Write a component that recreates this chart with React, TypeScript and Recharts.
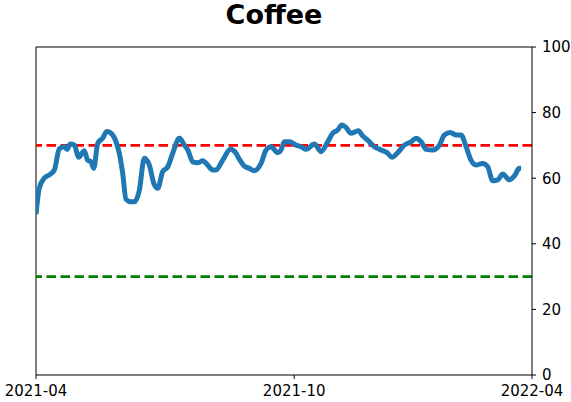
import { LineChart, Line, XAxis, YAxis, ReferenceLine } from 'recharts';

// days since the left edge of the axis
const days = [
  0, 2.4, 6, 9.8, 13.5, 17.2, 20.9, 22.8, 25.2, 28.2, 31.4, 35.5, 38, 40.5, 42.5, 45.4,
  49, 52.2, 55.2, 58.9, 61.3, 63.8, 66.2, 69.9, 72.4, 76, 79.7, 83.4, 86.7, 89.6, 93.2,
  97, 100.6, 105.5, 109.2, 111.7, 115.3, 119, 122.7, 126.4, 130, 132.5, 137.4, 143,
  147.2, 149.6, 153.3, 157, 160.7, 165.6, 169.3, 173, 177.9, 180.3, 182.8, 186.5,
  191.4, 195.1, 198.8, 204.9, 209.7, 214.7, 218.3, 222, 225, 228.1, 231.8, 237.2,
  240.4, 244.1, 249, 253.9, 258.3, 262, 266.2, 271.1, 276, 279.7, 283.4, 287.1, 292,
  296.9, 300.5, 304.9, 309.1, 312.8, 316.5, 320.1, 323.8, 328.7, 332.4, 336.1, 339.8,
  343.5, 348.4, 352.1, 355.7, 357,
];

const values = [
  49, 57, 60, 61, 62.5, 69, 69.6, 68.8, 70.4, 70.1, 66.4, 68.4, 65.5, 65, 63, 70.6,
  72.2, 74.2, 73.7, 71.1, 67.6, 61.5, 53.6, 52.8, 52.8, 56.2, 66.1, 64, 58.4, 56.9, 62,
  63.5, 67.6, 72.2, 70.1, 68.6, 65, 64.7, 65.3, 64, 62.5, 62.5, 65.5, 68.8,
  67.6, 65.8, 63.7, 63, 62.3, 64.5, 68.6, 69.6, 67.8, 68.6, 71.1, 71.1,
  70.1, 69.6, 68.8, 70.4, 68.1, 71.1, 73.7, 74.7, 76.2, 75.5, 73.7, 74.5,
  72.9, 71.6, 69.6, 68.6, 67.8, 66.4, 67.8, 70.1, 71.1, 72.2, 71.1, 68.8, 68.6,
  70.1, 73.2, 73.9, 73.2, 73.2, 69.6, 65.5, 64, 64.5, 63.5, 59.2, 59.5,
  61.3, 59.5, 60.7, 63, 63,
];

const xTicks = [0, 190, 365];
const xTickLabels = ['2021-04', '2021-10', '2022-04'];
const yTicks = [0, 20, 40, 60, 80, 100];
const upperLevel = 70;
const lowerLevel = 30;

const data = days.map((d, i) => ({ day: d, value: values[i] }));

const tickFont = { fill: '#000', fontSize: 15, fontFamily: 'DejaVu Sans' };

export default function App() {
  return (
    <div style={{ position: 'absolute', left: 0, top: 0, width: 571, height: 402, background: '#fff' }}>
      <div
        style={{
          position: 'absolute',
          left: 0,
          width: 548,
          top: 0,
          textAlign: 'center',
          fontFamily: 'DejaVu Sans',
          fontWeight: 'bold',
          fontSize: 27,
          lineHeight: '30px',
        }}
      >
        Coffee
      </div>
      <LineChart width={571} height={402} data={data} margin={{ top: 47, right: 0, left: 36, bottom: 0 }}>
        <XAxis
          dataKey="day"
          type="number"
          domain={[0, 365]}
          ticks={xTicks}
          tickFormatter={(v: number) => xTickLabels[xTicks.indexOf(v)] ?? ''}
          height={27}
          tickSize={4}
          tickMargin={6}
          interval={0}
          stroke="#000"
          tick={tickFont}
          allowDataOverflow
        />
        <YAxis
          orientation="right"
          domain={[0, 100]}
          ticks={yTicks}
          width={39}
          tickSize={4}
          tickMargin={6}
          interval={0}
          stroke="#000"
          tick={tickFont}
        />
        {/* frame: left and top spines */}
        <ReferenceLine x={0} stroke="#000" strokeWidth={1} />
        <ReferenceLine y={100} stroke="#000" strokeWidth={1} />
        <ReferenceLine y={upperLevel} stroke="#ff0000" strokeWidth={2.7} strokeDasharray="9.5 4.5" />
        <ReferenceLine y={lowerLevel} stroke="#008000" strokeWidth={2.7} strokeDasharray="9.5 4.5" />
        <Line
          type="monotone"
          dataKey="value"
          stroke="#1f77b4"
          strokeWidth={5}
          dot={false}
          isAnimationActive={false}
        />
      </LineChart>
    </div>
  );
}
